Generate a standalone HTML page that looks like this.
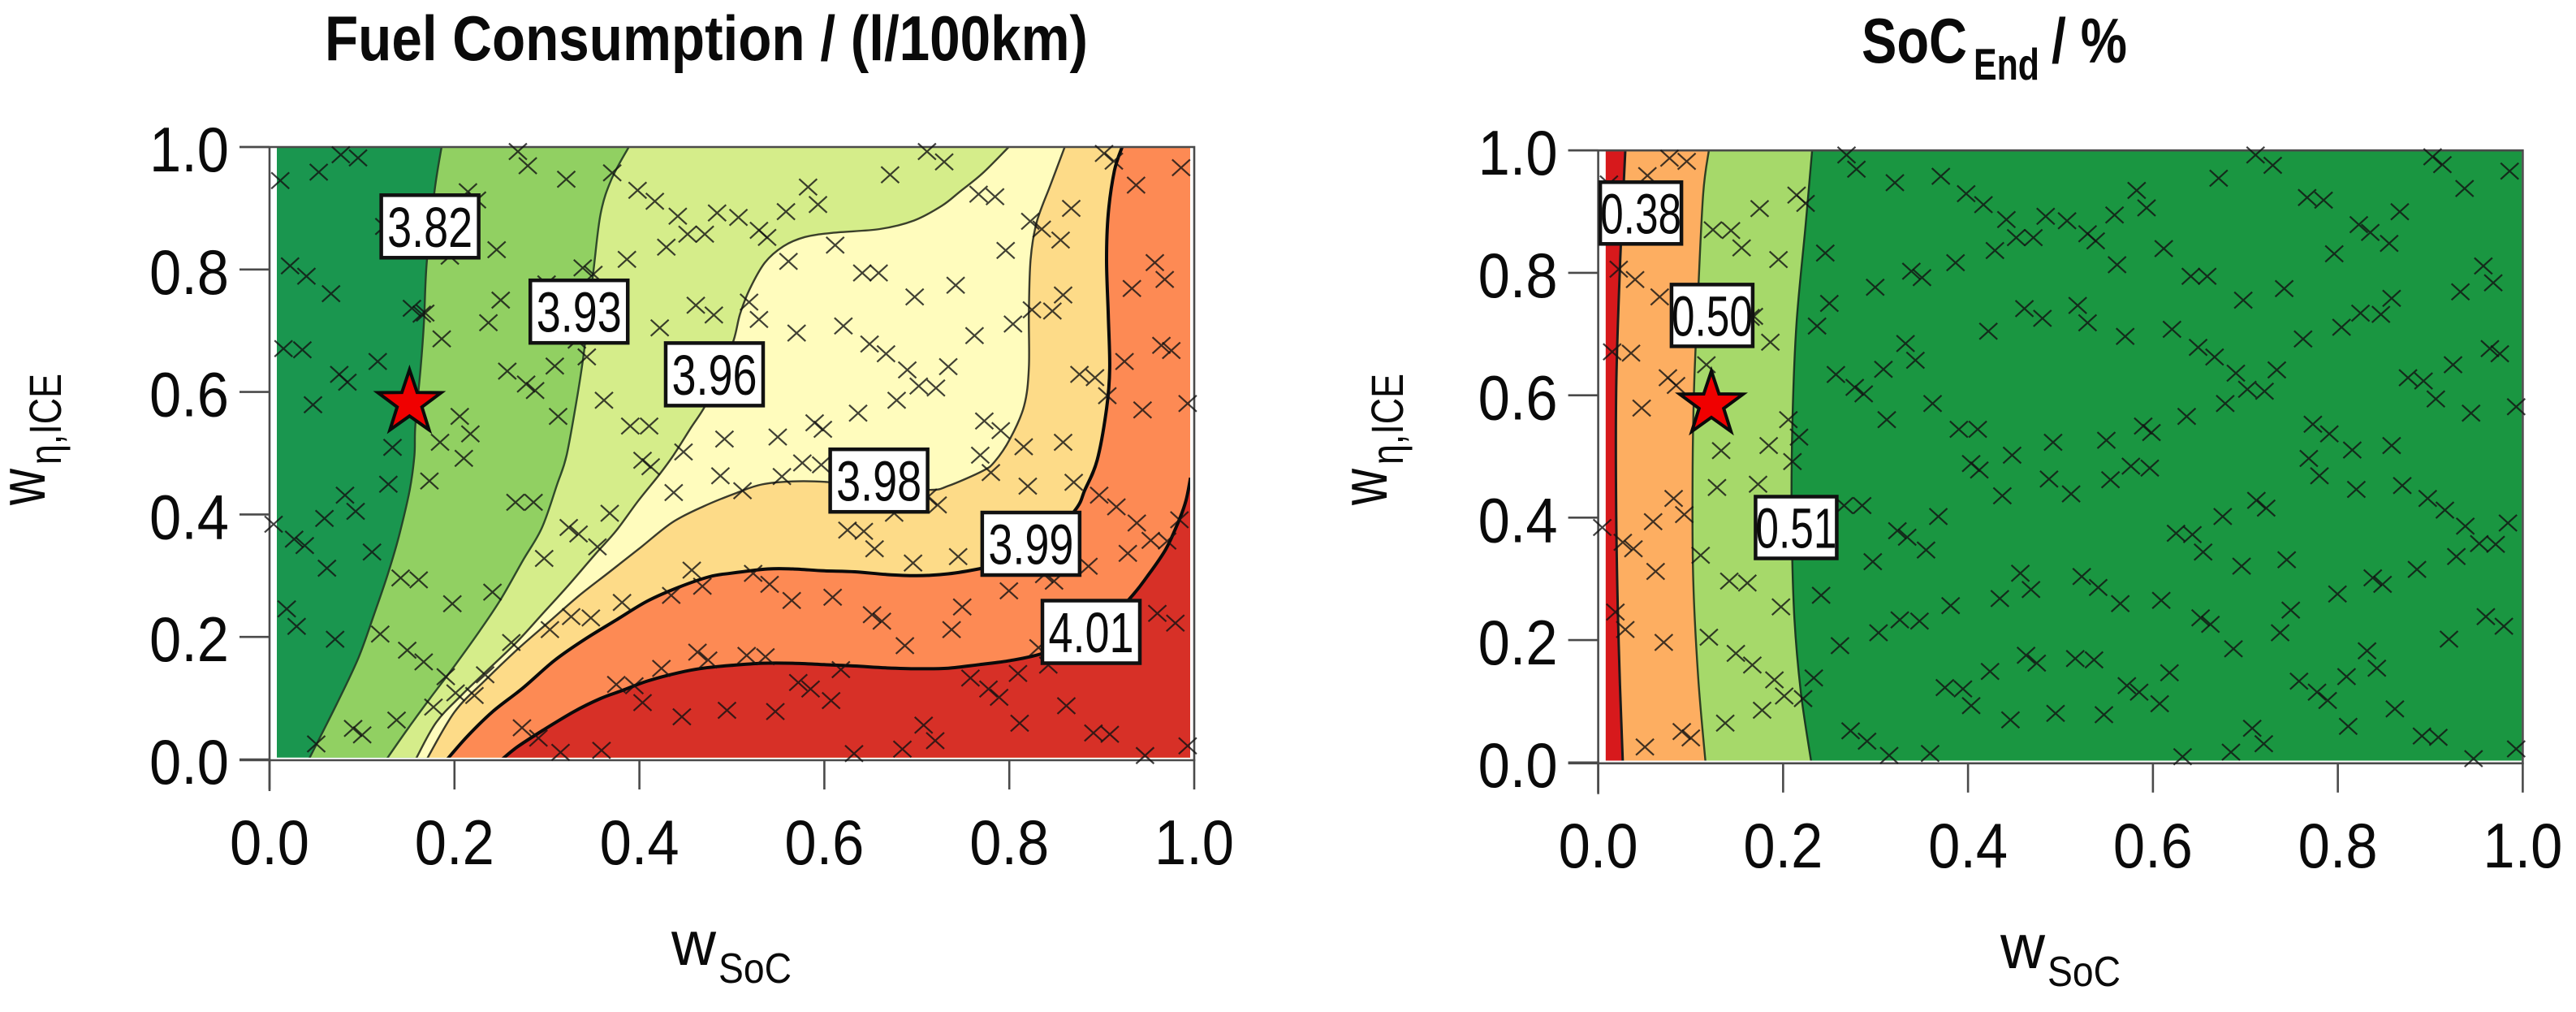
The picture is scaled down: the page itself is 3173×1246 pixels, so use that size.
<!DOCTYPE html>
<html lang="en">
<head>
<meta charset="utf-8">
<title>Fuel Consumption and SoC End contour plots</title>
<style>
html,body{margin:0;padding:0;background:#fff;width:3173px;height:1246px;overflow:hidden}
svg{display:block}
text{font-family:"Liberation Sans",sans-serif;fill:#0a0a0a}
</style>
</head>
<body>
<svg id="figure" xmlns="http://www.w3.org/2000/svg" width="3173" height="1246" viewBox="0 0 3173 1246">
  <text x="400" y="74" font-size="78" font-weight="700" textLength="940" lengthAdjust="spacingAndGlyphs">Fuel Consumption / (l/100km)</text>
  <text x="2293" y="77" font-size="78" font-weight="700" textLength="130" lengthAdjust="spacingAndGlyphs">SoC</text>
  <text x="2431" y="98" font-size="55" font-weight="700" textLength="81" lengthAdjust="spacingAndGlyphs">End</text>
  <text x="2527" y="77" font-size="78" font-weight="700" textLength="93" lengthAdjust="spacingAndGlyphs">/ %</text>
</svg>
<script>
const weightSoc = [
.2686,.2793,.3209,.3706,.398,.4167,.4415,.484,.5071,.5293,.5381,.4521,.4707,.4291,.3865,.5824,.5931,.5585,.6117,.5612,.641,.6587,.6711,.711,.7296,.7668,.7846,.8227,.8351,.8555,.867,.7961,.9025,.9131,.9371,.9858,.9574,.9681,.9326,.742,.6977,.8582,.8245,.8466,.804,.7624,.6206,.57,.461,.4805,.5186,.5293,.422,.2996,.3387,.3502,.2456,.25,.2367,.3324,.3431,.3085,.2571,.2775,.2872,.3617,.3121,.3901,.4105,.4034,.4122,.4477,.492,.5496,.5895,.5984,.5762,.5966,.4876,.5115,.5541,.4371,.6365,.6489,.6667,.6897,.7021,.7207,.734,.6782,.773,.7908,.8156,.8582,.7686,.7801,.82,.8697,.8759,.8927,.906,.9441,.9246,.9645,.9752,.9929,.8972,.9158,.9379,.953,.9707,.984,.9282,.8856,.8378,.8484,.7996,.7447,.6959,.7119,.7225,.6755,.625,.6427,.6543,.609,.5647,.5408,.523,.4566,.4681,.4344,.3812,.3679,.3546,.3236,.3342,.297,.2855,.266,.2101,.2172,.2057,.2411,.1977,.1613,.1418,.1108,.1729,.1285,.133,.1844,.117,.1862,.1684,.0222,.0399,.0665,.0151,.0355,.0754,.0842,.047,.0816,.0594,.0931,.0044,.0266,.0381,.0621,.0186,.0293,.0709,.1197,.1489,.1667,.1906,.2012,.2216,.2332,.1773,.1374,.0904,.1002,.0505,.273,.2908,.3147,.359,.2615,.3032,.3262,.3475,.375,.3945,.4034,.4238,.4459,.4628,.4743,.4947,.516,.5363,.547,.5718,.5851,.6073,.6179,.6321,.6516,.6622,.6871,.6844,.7074,.7199,.7376,.7491,.758,.7775,.789,.8112,.8094,.8316,.8422,.8617,.891,.9087,.9202,.9468,.9601,.9796,.9929,.2146,.2243,.1241,.1436,.1551,.1746,.195,.0771,.0957,.0532,.0116,.154,.1647
];
const weightEta = [
.9926,.9694,.9473,.9578,.9293,.9114,.8871,.8924,.885,.8639,.8523,.8576,.8576,.8365,.8165,.9346,.9061,.8945,.8397,.8133,.7943,.7943,.9546,.9926,.9757,.923,.9188,.8787,.866,.8481,.8998,.8312,.9895,.9768,.9378,.9662,.8112,.7838,.769,.7743,.7553,.7584,.7342,.7321,.711,.692,.7078,.6962,.7416,.7257,.7468,.7184,.7046,.7764,.8027,.7922,.8323,.75,.7131,.6846,.6572,.6424,.634,.6129,.6023,.5865,.5601,.5443,.5443,.4884,.4778,.5021,.5232,.5264,.5496,.539,.4842,.481,.4631,.4388,.462,.4357,.5654,.6783,.6624,.6361,.6097,.6065,.6414,.5865,.5527,.5369,.5105,.5179,.4968,.4684,.4462,.4525,.6287,.6234,.5939,.5707,.6498,.6762,.6677,.5812,.4314,.4124,.3861,.3576,.3565,.3913,.3365,.3154,.3017,.2911,.2753,.3312,.3207,.4283,.4156,.4019,.3745,.3724,.3439,.2648,.2595,.2859,.3038,.3091,.2827,.2679,.2563,.4019,.3471,.3787,.3681,.3281,.4198,.4198,.4916,.5316,.5601,.2732,.2542,.2932,.2964,.3386,.4546,.4494,.5095,.5179,.6498,.6867,.7289,.8059,.789,.7606,.6709,.6688,.6287,.616,.5791,.4314,.3935,.4051,.384,.3597,.3492,.3122,.2458,.2173,.1962,.2046,.1783,.1593,.135,.1086,.1044,.1382,.0854,.0643,.0506,.0401,.0253,.0517,.0348,.0116,.0148,.1909,.212,.2331,.231,.1224,.1203,.0928,.1487,.0696,.1751,.1624,.0802,.1698,.1677,.0781,.1255,.115,.096,.1466,.0095,.2363,.2257,.1857,.0169,.0559,.0306,.212,.249,.1329,.115,.1013,.0591,.1403,.1825,.154,.0876,.0432,.0411,.2015,.0063,.2384,.2226,.0222,.927,.9135,.8703,.8692,.8407,.905,.8217,.9873,.9821,.9589,.9452,.7366,.7271
];

/* Tick labels */
const axisTicks = [0, 0.2, 0.4, 0.6, 0.8, 1.0];

/* Fuel consumption iso-lines, top of plot to bottom */
const fuel382 = [[.186,1],[.1786,.93],[.170,.811],[.167,.714],[.1634,.639],[.1577,.546],[.1567,.497],[.1516,.44],[.14,.365],[.128,.303],[.113,.2365],[.0962,.166],[.0727,.0906],[.0425,0]];
const fuel393 = [[.3885,1],[.37,.948],[.358,.891],[.35,.7935],[.34,.665],[.333,.5945],[.3213,.497],[.311,.449],[.2945,.378],[.274,.325],[.2507,.263],[.2273,.21],[.2,.1525],[.1735,.0995],[.15,.051],[.1264,0]];
const fuel396 = [[.7994,1],[.771,.957],[.7473,.928],[.727,.904],[.697,.88],[.66,.866],[.6096,.86],[.579,.853],[.5558,.838],[.5356,.811],[.519,.767],[.5088,.727],[.502,.685],[.488,.63],[.471,.577],[.4557,.5415],[.437,.497],[.422,.466],[.3986,.422],[.375,.3736],[.3516,.334],[.3213,.281],[.2945,.2365],[.2676,.192],[.2373,.148],[.207,.104],[.18,.06],[.158,0]];
const fuel398 = [[.86,1],[.8448,.939],[.8297,.8776],[.823,.8156],[.8212,.727],[.8212,.639],[.816,.577],[.801,.524],[.784,.486],[.771,.471],[.734,.4466],[.7138,.44],[.66,.445],[.6028,.453],[.566,.454],[.5323,.449],[.5054,.4354],[.469,.413],[.4355,.387],[.402,.347],[.3684,.307],[.3348,.2675],[.3011,.2232],[.2676,.179],[.234,.1304],[.2,.0773],[.17,0]];
const fuel399 = [[.922,1],[.9137,.9615],[.907,.891],[.9052,.8156],[.907,.727],[.9086,.639],[.9052,.5725],[.895,.4885],[.8817,.44],[.87,.4045],[.825,.33],[.769,.3117],[.734,.303],[.70,.3],[.6666,.302],[.633,.3064],[.5995,.308],[.566,.311],[.539,.311],[.4987,.304],[.4759,.2984],[.4423,.281],[.4087,.2586],[.375,.2277],[.3415,.1967],[.308,.1614],[.2743,.117],[.2407,.0773],[.2138,.0375],[.192,0]];
const fuel401 = [[.996,.46],[.991,.422],[.9826,.387],[.969,.3426],[.949,.2984],[.9305,.263],[.89,.2],[.8347,.1724],[.801,.1614],[.7676,.1548],[.734,.149],[.70,.148],[.6666,.1495],[.633,.1525],[.5995,.1548],[.566,.157],[.5323,.157],[.4987,.1534],[.469,.149],[.4423,.1415],[.4087,.128],[.3818,.1127],[.358,.0995],[.3283,.0773],[.2945,.0464],[.2676,.02],[.2514,0]];

/* End-of-cycle SoC iso-lines */
const soc038 = [[.0293,1],[.0239,.824],[.0195,.613],[.0195,.402],[.0222,.191],[.0266,0]];
const soc050 = [[.1197,1],[.1135,.929],[.1082,.771],[.1037,.613],[.102,.455],[.1028,.297],[.1082,.138],[.1161,0]];
const soc051 = [[.2314,1],[.2243,.877],[.2145,.718],[.2101,.56],[.2092,.402],[.2119,.244],[.219,.117],[.2305,0]];

/* Iso-line labels: printed value, then where it sits in data space */
const fuelLabelText = ['3.82','3.93','3.96','3.98','3.99','4.01'];
const fuelLabelX = [.1735,.3347,.4811,.659,.8234,.8885];
const fuelLabelY = [.8703,.7312,.6288,.4553,.3521,.2082];
const socLabelText = ['0.38','0.50','0.51'];
const socLabelX = [.0461,.1232,.2141];
const socLabelY = [.8977,.7304,.3839];

/* Optimum marker */
const fuelOptimum = [.1514,.582];
const socOptimum = [.1224,.585];

const NS = 'http://www.w3.org/2000/svg';
const svg = document.getElementById('figure');
function make(tag, parent, props) {
  const node = document.createElementNS(NS, tag);
  for (const key in props) node.setAttribute(key, props[key]);
  parent.appendChild(node);
  return node;
}
function smoothPath(points) {
  let d = 'M' + points[0][0].toFixed(1) + ' ' + points[0][1].toFixed(1);
  for (let i = 0; i < points.length - 1; i++) {
    const p0 = points[Math.max(i - 1, 0)], p1 = points[i], p2 = points[i + 1], p3 = points[Math.min(i + 2, points.length - 1)];
    const c1x = p1[0] + (p2[0] - p0[0]) / 6, c1y = p1[1] + (p2[1] - p0[1]) / 6;
    const c2x = p2[0] - (p3[0] - p1[0]) / 6, c2y = p2[1] - (p3[1] - p1[1]) / 6;
    d += 'C' + c1x.toFixed(1) + ' ' + c1y.toFixed(1) + ' ' + c2x.toFixed(1) + ' ' + c2y.toFixed(1) + ' ' + p2[0].toFixed(1) + ' ' + p2[1].toFixed(1);
  }
  return d;
}

function drawPanel(cfg) {
  const sx = v => cfg.left + v * cfg.width;
  const sy = v => cfg.bottom - v * cfg.height;
  const g = make('g', svg, {});
  
  

  const clipId = cfg.name + '-clip';
  const defs = make('defs', g, {});
  const clip = make('clipPath', defs, { id: clipId });
  make('rect', clip, { x: cfg.fillLeft, y: sy(1), width: cfg.fillRight - cfg.fillLeft, height: cfg.fillBottom - sy(1) });

  const field = make('g', g, { 'clip-path': 'url(#' + clipId + ')' });
  
  
  const base = make('rect', field, { x: cfg.fillLeft, y: sy(1), width: cfg.fillRight - cfg.fillLeft, height: cfg.height + 4, fill: cfg.baseColor });
  
  

  cfg.bands.forEach(band => {
    const pts = band.line.map(p => [sx(p[0]), sy(p[1])]);
    let d = smoothPath(pts) + 'L' + sx(1.02) + ' ' + sy(-0.02);
    if (band.line[0][1] >= 1) d += 'L' + sx(1.02) + ' ' + sy(1.02) + 'L' + pts[0][0] + ' ' + sy(1.02);
    else d += 'L' + sx(1.02) + ' ' + pts[0][1];
    d += 'Z';
    const region = make('path', field, { d: d, fill: band.color });
    
    
  });
  cfg.bands.forEach(band => {
    const pts = band.line.map(p => [sx(p[0]), sy(p[1])]);
    const line = make('path', field, { d: smoothPath(pts), fill: 'none', stroke: band.stroke, 'stroke-width': band.lineWidth });
    
    
  });

  /* frame and ticks */
  const axisColor = '#4a4a4a';
  const frame = make('path', g, { d: 'M' + (cfg.left - 37) + ' ' + sy(1) + 'H' + sx(1) + 'V' + (cfg.bottom + 1) + 'H' + (cfg.left - 37) + 'M' + cfg.left + ' ' + sy(1) + 'V' + (cfg.bottom + 39), fill: 'none', stroke: axisColor, 'stroke-width': 2.6 });
  
  

  axisTicks.forEach(t => {
    const xTick = make('line', g, { x1: sx(t), x2: sx(t), y1: cfg.bottom, y2: cfg.bottom + 37, stroke: axisColor, 'stroke-width': 2.6 });
    
    
    const yTick = make('line', g, { x1: cfg.left - 37, x2: cfg.left, y1: sy(t), y2: sy(t), stroke: axisColor, 'stroke-width': 2.6 });
    
    
    const xLabel = make('text', g, { x: sx(t) - 49, y: cfg.xLabelBaseline, 'font-size': 78, textLength: 98, lengthAdjust: 'spacingAndGlyphs' });
    xLabel.textContent = t.toFixed(1);
    
    
    const yLabel = make('text', g, { x: cfg.left - 148, y: sy(t) + 30, 'font-size': 78, textLength: 98, lengthAdjust: 'spacingAndGlyphs' });
    yLabel.textContent = t.toFixed(1);
    
    
  });

  /* sample markers */
  const markers = make('g', g, { fill: 'none', stroke: '#111', 'stroke-width': 2.2, 'stroke-opacity': .8 });
  
  
  weightSoc.forEach((w, i) => {
    const cx = sx(w), cy = sy(weightEta[i]);
    const mark = make('path', markers, { d: 'M' + (cx - 11) + ' ' + (cy - 10) + 'L' + (cx + 11) + ' ' + (cy + 10) + 'M' + (cx - 11) + ' ' + (cy + 10) + 'L' + (cx + 11) + ' ' + (cy - 10) });
    
    
  });

  /* iso-line labels */
  cfg.labelText.forEach((txt, i) => {
    const cx = sx(cfg.labelX[i]), cy = sy(cfg.labelY[i]);
    const box = make('rect', g, { x: cx - cfg.labelW / 2, y: cy - cfg.labelH / 2, width: cfg.labelW, height: cfg.labelH, fill: '#fff', stroke: '#111', 'stroke-width': 4.5 });
    
    
    const label = make('text', g, { x: cx - cfg.labelTextW / 2, y: cy + 25, 'font-size': 70, textLength: cfg.labelTextW, lengthAdjust: 'spacingAndGlyphs' });
    label.textContent = txt;
    
    
  });

  /* optimum star */
  const starPts = [];
  for (let k = 0; k < 10; k++) {
    const r = k % 2 ? 16 : 41, a = -Math.PI / 2 + k * Math.PI / 5;
    starPts.push((sx(cfg.star[0]) + r * Math.cos(a)).toFixed(1) + ',' + (sy(cfg.star[1]) + r * Math.sin(a)).toFixed(1));
  }
  const star = make('polygon', g, { points: starPts.join(' '), fill: '#f00000', stroke: '#0a0a0a', 'stroke-width': 4, 'stroke-linejoin': 'miter' });
  
  

  /* axis titles */
  const xTitle = make('text', g, { x: cfg.xTitleX, y: cfg.xTitleBaseline, 'font-size': 77, textLength: 55, lengthAdjust: 'spacingAndGlyphs' });
  xTitle.textContent = 'w';
  
  
  const xSub = make('text', g, { x: cfg.xTitleX + 58, y: cfg.xTitleBaseline + 22, 'font-size': 52, textLength: 90, lengthAdjust: 'spacingAndGlyphs' });
  xSub.textContent = 'SoC';
  
  
  const yTitle = make('text', g, { x: 0, y: 0, 'font-size': 81, textLength: 45, lengthAdjust: 'spacingAndGlyphs', transform: 'translate(' + cfg.yTitleBaseline + ' 622) rotate(-90)' });
  yTitle.textContent = 'w';
  
  
  const ySub = make('text', g, { x: 50, y: 20, 'font-size': 56, textLength: 112, lengthAdjust: 'spacingAndGlyphs', transform: 'translate(' + cfg.yTitleBaseline + ' 622) rotate(-90)' });
  ySub.textContent = 'η,ICE';
  
  
}

drawPanel({
  name: 'fuel-consumption', left: 332, width: 1139, bottom: 935, height: 754,
  fillLeft: 341, fillRight: 1466, fillBottom: 932.7,
  baseColor: '#1a964f',
  bands: [
    { value: '3.82', line: fuel382, color: '#91d062', stroke: '#24452a', lineWidth: 2.4 },
    { value: '3.93', line: fuel393, color: '#d5ed8a', stroke: '#2f4a2a', lineWidth: 2.4 },
    { value: '3.96', line: fuel396, color: '#fffcbd', stroke: '#3a3f2a', lineWidth: 2.4 },
    { value: '3.98', line: fuel398, color: '#fddb88', stroke: '#3a3a2a', lineWidth: 2.4 },
    { value: '3.99', line: fuel399, color: '#fd8a54', stroke: '#0a0a0a', lineWidth: 4 },
    { value: '4.01', line: fuel401, color: '#d73027', stroke: '#0a0a0a', lineWidth: 4 }
  ],
  labelText: fuelLabelText, labelX: fuelLabelX, labelY: fuelLabelY, labelW: 120, labelH: 77, labelTextW: 105,
  star: fuelOptimum, xLabelBaseline: 1064, xTitleX: 827, xTitleBaseline: 1188, yTitleBaseline: 55
});

drawPanel({
  name: 'soc-end', left: 1968.6, width: 1138.8, bottom: 938.8, height: 753.6,
  fillLeft: 1977.7, fillRight: 3106, fillBottom: 936.5,
  baseColor: '#d7191c',
  bands: [
    { value: '0.38', line: soc038, color: '#fdae61', stroke: '#1a1a1a', lineWidth: 3 },
    { value: '0.50', line: soc050, color: '#a6d96a', stroke: '#2f3f22', lineWidth: 2.4 },
    { value: '0.51', line: soc051, color: '#1a9641', stroke: '#1a3a22', lineWidth: 2.4 }
  ],
  labelText: socLabelText, labelX: socLabelX, labelY: socLabelY, labelW: 100, labelH: 76, labelTextW: 100,
  star: socOptimum, xLabelBaseline: 1068, xTitleX: 2464, xTitleBaseline: 1192, yTitleBaseline: 1708
});
</script>
</body>
</html>
